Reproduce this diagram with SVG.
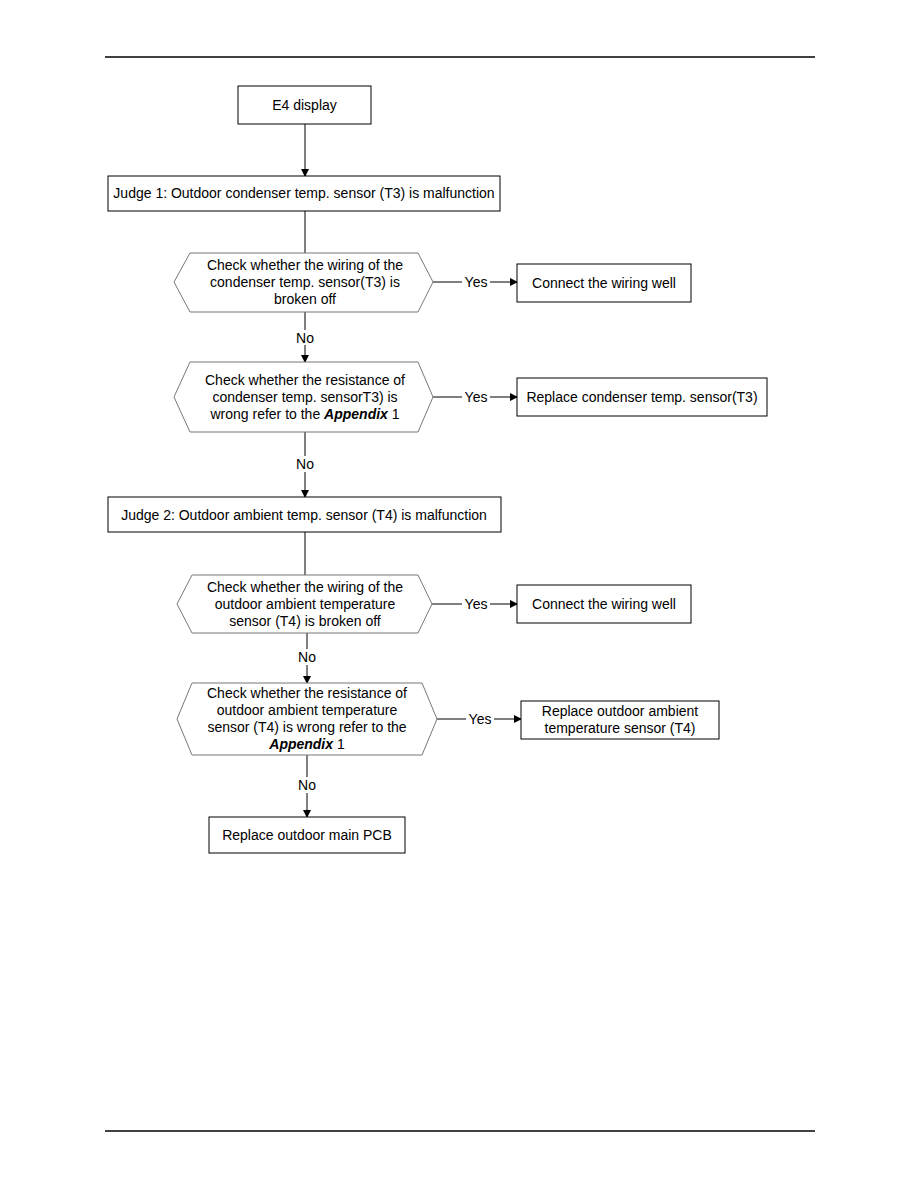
<svg xmlns="http://www.w3.org/2000/svg" width="918" height="1188" viewBox="0 0 918 1188">
<defs>
<marker id="ah" markerWidth="8" markerHeight="8" refX="7" refY="4" orient="auto" markerUnits="userSpaceOnUse">
<path d="M0,0 L8,4 L0,8 Z" fill="#000"/>
</marker>
<style>
.box{fill:#fff;stroke:#000;stroke-width:1}
.hex{fill:#fff;stroke:#777;stroke-width:1}
.t{font-family:"Liberation Sans",Arial,sans-serif;font-size:14px;fill:#000;text-anchor:middle}
.c{stroke:#000;stroke-width:1;fill:none}
.ca{stroke:#000;stroke-width:1;fill:none;marker-end:url(#ah)}
.b{font-weight:bold;font-style:italic}
.rule{stroke:#000;stroke-width:1.5}
</style>
</defs>
<rect width="918" height="1188" fill="#fff"/>
<line class="rule" x1="105" y1="57" x2="815" y2="57"/>
<line class="rule" x1="105" y1="1131" x2="815" y2="1131"/>

<g id="connectors">
<line class="ca" x1="305" y1="124" x2="305" y2="176"/>
<line class="c" x1="305" y1="211" x2="305" y2="253"/>
<line class="ca" x1="433" y1="282" x2="517" y2="282"/>
<line class="c" x1="305" y1="312" x2="305" y2="330"/>
<line class="ca" x1="305" y1="345" x2="305" y2="362"/>
<line class="ca" x1="433" y1="397" x2="517" y2="397"/>
<line class="c" x1="305" y1="432" x2="305" y2="456"/>
<line class="ca" x1="305" y1="472" x2="305" y2="497"/>
<line class="c" x1="305" y1="532" x2="305" y2="575"/>
<line class="ca" x1="432" y1="604" x2="517" y2="604"/>
<line class="c" x1="307" y1="633" x2="307" y2="649"/>
<line class="ca" x1="307" y1="665" x2="307" y2="683"/>
<line class="ca" x1="437" y1="719" x2="521" y2="719"/>
<line class="c" x1="307" y1="755" x2="307" y2="777"/>
<line class="ca" x1="307" y1="793" x2="307" y2="817"/>
<g class="t">
<rect x="462" y="274" width="28" height="14" fill="#fff"/>
<text x="476" y="287">Yes</text>
<text x="305" y="343">No</text>
<rect x="462" y="389" width="28" height="14" fill="#fff"/>
<text x="476" y="402">Yes</text>
<text x="305" y="469">No</text>
<rect x="462" y="596" width="28" height="14" fill="#fff"/>
<text x="476" y="609">Yes</text>
<text x="307" y="662">No</text>
<rect x="466" y="711" width="28" height="14" fill="#fff"/>
<text x="480" y="724">Yes</text>
<text x="307" y="790">No</text>
</g>
</g>

<g id="n_e4">
<rect class="box" x="238" y="86" width="133" height="38"/>
<text class="t" x="304.5" y="110">E4 display</text>
</g>
<g id="n_judge1">
<rect class="box" x="108" y="176" width="392" height="35"/>
<text class="t" x="304" y="198">Judge 1: Outdoor condenser temp. sensor (T3) is malfunction</text>
</g>
<g id="n_check1">
<polygon class="hex" points="190,253 418,253 433,282 418,312 190,312 174,282"/>
<text class="t" x="305" y="270">Check whether the wiring of the</text>
<text class="t" x="305" y="287">condenser temp. sensor(T3) is</text>
<text class="t" x="305" y="304">broken off</text>
</g>
<g id="n_connect1">
<rect class="box" x="517" y="264" width="174" height="38"/>
<text class="t" x="604" y="288">Connect the wiring well</text>
</g>
<g id="n_check2">
<polygon class="hex" points="190,362 418,362 433,397 418,432 190,432 174,397"/>
<text class="t" x="305" y="385">Check whether the resistance of</text>
<text class="t" x="305" y="402">condenser temp. sensorT3) is</text>
<text class="t" x="305" y="419">wrong refer to the <tspan class="b">Appendix</tspan> 1</text>
</g>
<g id="n_replace_t3">
<rect class="box" x="517" y="378" width="250" height="38"/>
<text class="t" x="642" y="402">Replace condenser temp. sensor(T3)</text>
</g>
<g id="n_judge2">
<rect class="box" x="108" y="497" width="393" height="35"/>
<text class="t" x="304" y="520">Judge 2: Outdoor ambient temp. sensor (T4) is malfunction</text>
</g>
<g id="n_check3">
<polygon class="hex" points="192,575 418,575 432,604 418,633 192,633 177,604"/>
<text class="t" x="305" y="592">Check whether the wiring of the</text>
<text class="t" x="305" y="609">outdoor ambient temperature</text>
<text class="t" x="305" y="626">sensor (T4) is broken off</text>
</g>
<g id="n_connect2">
<rect class="box" x="517" y="585" width="174" height="38"/>
<text class="t" x="604" y="609">Connect the wiring well</text>
</g>
<g id="n_check4">
<polygon class="hex" points="192,683 422,683 437,719 422,755 192,755 177,719"/>
<text class="t" x="307" y="698">Check whether the resistance of</text>
<text class="t" x="307" y="715">outdoor ambient temperature</text>
<text class="t" x="307" y="732">sensor (T4) is wrong refer to the</text>
<text class="t" x="307" y="749"><tspan class="b">Appendix</tspan> 1</text>
</g>
<g id="n_replace_t4">
<rect class="box" x="521" y="701" width="198" height="38"/>
<text class="t" x="620" y="716">Replace outdoor ambient</text>
<text class="t" x="620" y="733">temperature sensor (T4)</text>
</g>
<g id="n_pcb">
<rect class="box" x="209" y="817" width="196" height="36"/>
<text class="t" x="307" y="840">Replace outdoor main PCB</text>
</g>
</svg>
